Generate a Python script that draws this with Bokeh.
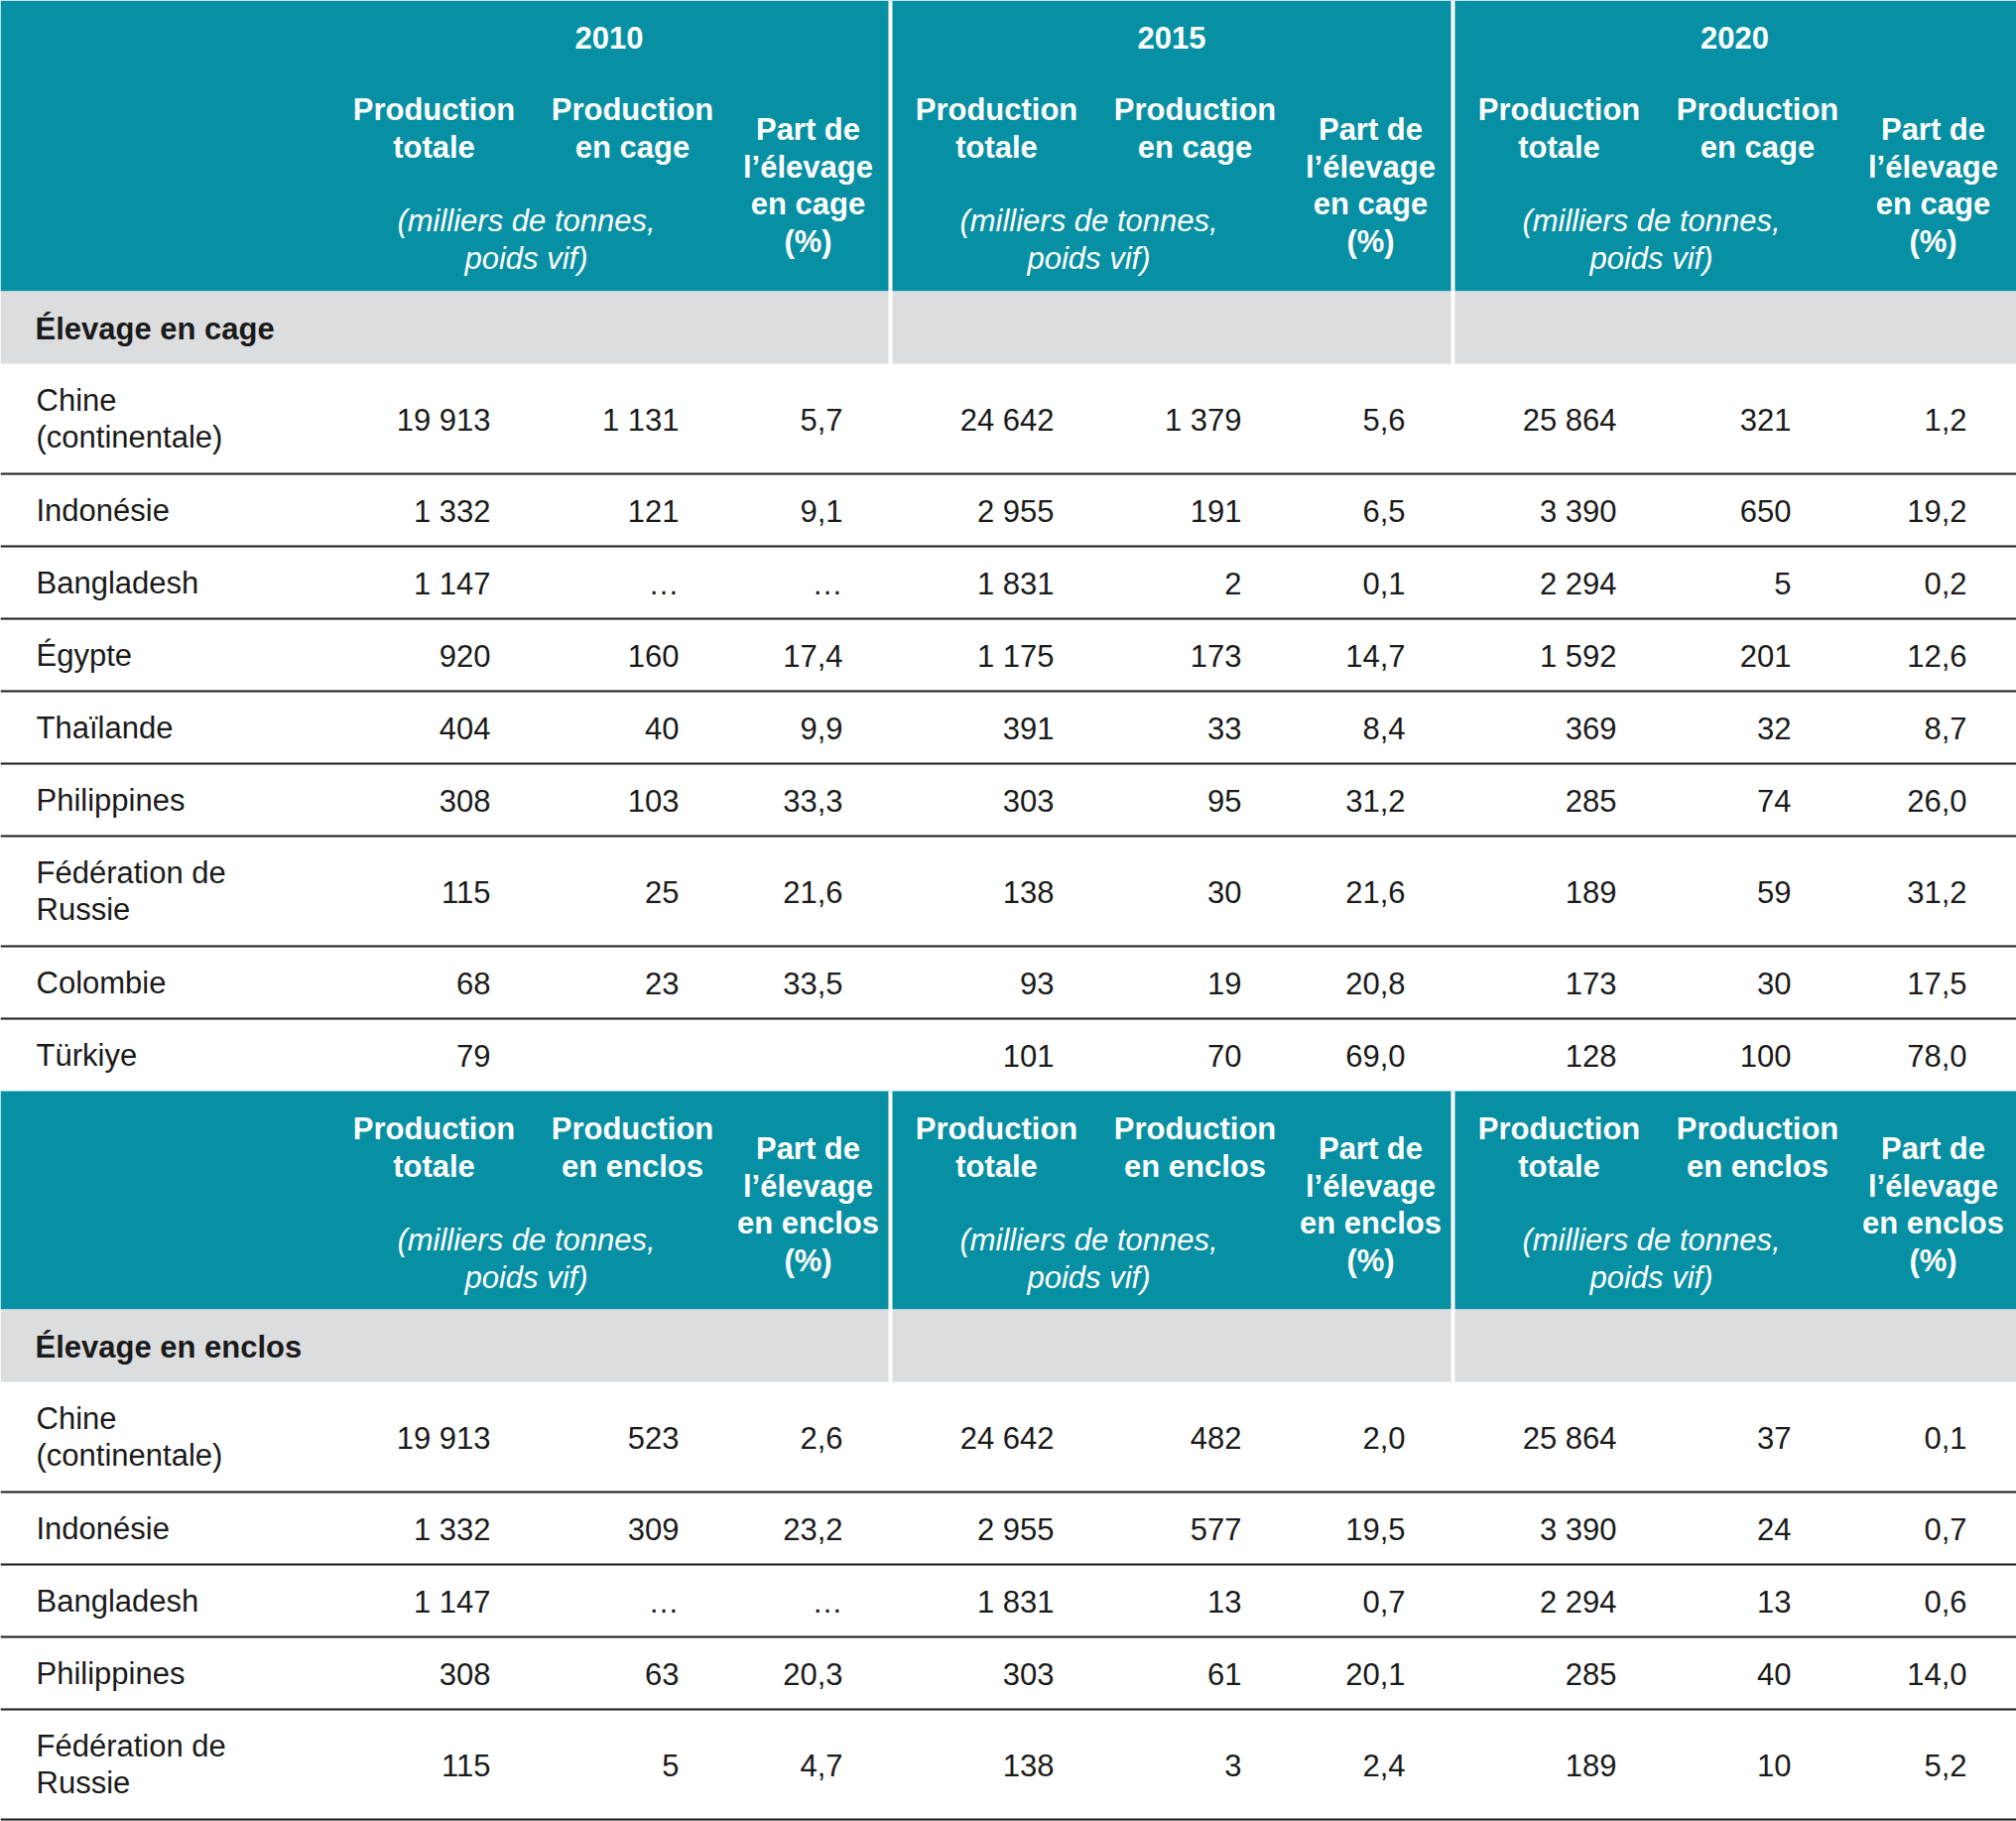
from bokeh.plotting import figure
from bokeh.models import Range1d, ColumnDataSource
from bokeh.core.properties import value
from bokeh.embed import file_html
from bokeh.resources import INLINE

# ---------------- data ----------------
years = ["2010", "2015", "2020"]

head_cage = ["Production\ntotale", "Production\nen cage", "Part de\nl\u2019élevage\nen cage\n(%)"]
head_enclos = ["Production\ntotale", "Production\nen enclos", "Part de\nl\u2019élevage\nen enclos\n(%)"]
unit_label = "(milliers de tonnes,\npoids vif)"
section_cage = "Élevage en cage"
section_enclos = "Élevage en enclos"

cage_countries = ["Chine\n(continentale)", "Indonésie", "Bangladesh", "Égypte", "Thaïlande",
                  "Philippines", "Fédération de\nRussie", "Colombie", "Türkiye"]
cage_total_2010 = ["19 913", "1 332", "1 147", "920", "404", "308", "115", "68", "79"]
cage_cage_2010 = ["1 131", "121", "…", "160", "40", "103", "25", "23", ""]
cage_share_2010 = ["5,7", "9,1", "…", "17,4", "9,9", "33,3", "21,6", "33,5", ""]
cage_total_2015 = ["24 642", "2 955", "1 831", "1 175", "391", "303", "138", "93", "101"]
cage_cage_2015 = ["1 379", "191", "2", "173", "33", "95", "30", "19", "70"]
cage_share_2015 = ["5,6", "6,5", "0,1", "14,7", "8,4", "31,2", "21,6", "20,8", "69,0"]
cage_total_2020 = ["25 864", "3 390", "2 294", "1 592", "369", "285", "189", "173", "128"]
cage_cage_2020 = ["321", "650", "5", "201", "32", "74", "59", "30", "100"]
cage_share_2020 = ["1,2", "19,2", "0,2", "12,6", "8,7", "26,0", "31,2", "17,5", "78,0"]

enclos_countries = ["Chine\n(continentale)", "Indonésie", "Bangladesh", "Philippines",
                    "Fédération de\nRussie"]
enclos_total_2010 = ["19 913", "1 332", "1 147", "308", "115"]
enclos_enclos_2010 = ["523", "309", "…", "63", "5"]
enclos_share_2010 = ["2,6", "23,2", "…", "20,3", "4,7"]
enclos_total_2015 = ["24 642", "2 955", "1 831", "303", "138"]
enclos_enclos_2015 = ["482", "577", "13", "61", "3"]
enclos_share_2015 = ["2,0", "19,5", "0,7", "20,1", "2,4"]
enclos_total_2020 = ["25 864", "3 390", "2 294", "285", "189"]
enclos_enclos_2020 = ["37", "24", "13", "40", "10"]
enclos_share_2020 = ["0,1", "0,7", "0,6", "14,0", "5,2"]

cage_cols = [[cage_total_2010, cage_cage_2010, cage_share_2010],
             [cage_total_2015, cage_cage_2015, cage_share_2015],
             [cage_total_2020, cage_cage_2020, cage_share_2020]]
enclos_cols = [[enclos_total_2010, enclos_enclos_2010, enclos_share_2010],
               [enclos_total_2015, enclos_enclos_2015, enclos_share_2015],
               [enclos_total_2020, enclos_enclos_2020, enclos_share_2020]]

# ---------------- layout (reference pixel space) ----------------
W, H = 2032, 1835
TEAL = "#0790A3"
GRAY = "#DCDDDF"
INK = "#1a1a1a"
FONT = value("Liberation Sans")
FS = "31px"
LH = 37.5

sec_start = [330, 897, 1464]
sec_end = [897, 1464, 2032]
col_right = [[494, 684, 849], [1062, 1251, 1416], [1629, 1805, 1982]]
col_center_off = [107, 307, 484]

p = figure(width=W, height=H, x_range=Range1d(0, W), y_range=Range1d(H, 0),
           output_backend="svg", toolbar_location=None, min_border=0,
           x_axis_type=None, y_axis_type=None)
p.grid.visible = False
p.outline_line_color = None
p.background_fill_color = "white"
p.border_fill_color = "white"

texts = {k: dict(x=[], y=[], t=[]) for k in
         ["hb_c", "hi_c", "sec", "body_l", "body_r"]}


def add(kind, x, y, t):
    texts[kind]["x"].append(x)
    texts[kind]["y"].append(y)
    texts[kind]["t"].append(t)


def add_lines(kind, x, y_first, label):
    for i, ln in enumerate(label.split("\n")):
        add(kind, x, y_first + i * LH, ln)


def header(top, height, heads, with_years):
    p.quad(left=[0], right=[W], top=[top], bottom=[top + height], fill_color=TEAL, line_color=None)
    off = 0 if with_years else -72
    if with_years:
        for s, e, yr in zip(sec_start, sec_end, years):
            add("hb_c", (s + e) / 2, top + 37, yr)
    for s in sec_start:
        add_lines("hb_c", s + col_center_off[0], top + 110 + off, heads[0])
        add_lines("hb_c", s + col_center_off[1], top + 110 + off, heads[1])
        add_lines("hb_c", s + col_center_off[2], top + 130 + off, heads[2])
        add_lines("hi_c", s + 200, top + 222 + off, unit_label)


def gray_band(top, label):
    p.quad(left=[0], right=[W], top=[top], bottom=[top + 73], fill_color=GRAY, line_color=None)
    add("sec", 35, top + 38, label)


def body(top, countries, cols, last_line):
    y = top
    lines_y = []
    for i, c in enumerate(countries):
        h = 111 if "\n" in c else 73
        cy = y + h / 2
        n = c.count("\n") + 1
        add_lines("body_l", 36, cy - (n - 1) * 19, c)
        for k in range(3):
            for j in range(3):
                add("body_r", col_right[k][j], cy + 1, cols[k][j][i])
        y += h
        if i < len(countries) - 1 or last_line:
            lines_y.append(y)
    p.segment(x0=[0] * len(lines_y), y0=lines_y, x1=[W] * len(lines_y), y1=lines_y,
              line_color=INK, line_width=2.2)
    return y


# block 1
header(0, 293, head_cage, True)
gray_band(293, section_cage)
y_end = body(366, cage_countries, cage_cols, False)
# block 2
header(y_end, 220, head_enclos, False)
gray_band(y_end + 220, section_enclos)
body(y_end + 220 + 73, enclos_countries, enclos_cols, True)

# white separators in headers and gray bands
for bx in sec_start[1:]:
    p.segment(x0=[bx, bx], y0=[0, y_end], x1=[bx, bx], y1=[366, y_end + 293],
              line_color="white", line_width=4)

style = {
    "hb_c": dict(color="white", fstyle="bold", align="center"),
    "hi_c": dict(color="white", fstyle="italic", align="center"),
    "sec": dict(color=INK, fstyle="bold", align="left"),
    "body_l": dict(color=INK, fstyle="normal", align="left"),
    "body_r": dict(color=INK, fstyle="normal", align="right"),
}
for k, d in texts.items():
    if not d["t"]:
        continue
    st = style[k]
    src = ColumnDataSource(dict(x=d["x"], y=d["y"], t=d["t"]))
    p.text(x="x", y="y", text="t", source=src, text_font=FONT, text_font_size=FS,
           text_font_style=st["fstyle"], text_color=st["color"], text_align=st["align"],
           text_baseline="middle")

open("out.html", "w").write(file_html(p, INLINE))
